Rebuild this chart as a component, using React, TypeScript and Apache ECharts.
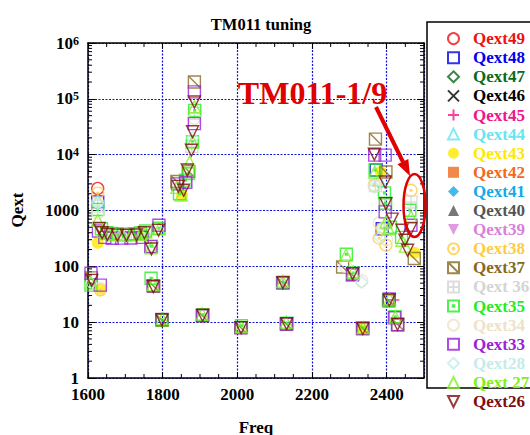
import React, { useEffect, useRef } from 'react';
import * as echarts from 'echarts';

const FONT = '"Liberation Serif", "Times New Roman", serif';

const seriesNames = [
  'Qext49', 'Qext48', 'Qext47', 'Qext46', 'Qext45', 'Qext44', 'Qext43', 'Qext42', 'Qext41', 'Qext40',
  'Qext39', 'Qext38', 'Qext37', 'Qext 36', 'Qext35', 'Qext34', 'Qext33', 'Qext28', 'Qext 27', 'Qext26',
];
const seriesColors = [
  '#ee1111', '#0000ee', '#0a6a1a', '#000000', '#f0148c', '#66e5f2', '#ffe800', '#f06a1e', '#12aae8', '#555555',
  '#d880dc', '#ffcc40', '#86691f', '#d4d4d4', '#22ee22', '#eee2c6', '#9a22d8', '#c4ecea', '#7ef020', '#7d0c0c',
];
const P_X = 'path://M0,0L10,10M10,0L0,10';
const P_PLUS = 'path://M5,0L5,10M0,5L10,5';
const P_DOWN = 'path://M0,0L10,0L5,10Z';
const P_CDOT = 'path://M5,0A5,5,0,1,1,5,10A5,5,0,1,1,5,0ZM5,4.2A0.8,0.8,0,1,1,5,5.8A0.8,0.8,0,1,1,5,4.2Z';
const P_SDIAG = 'path://M0,0L10,0L10,10L0,10ZM0,0L10,10';
const P_SGRID = 'path://M0,0L10,0L10,10L0,10ZM5,0L5,10M0,5L10,5';
const P_SDOT = 'path://M0,0L10,0L10,10L0,10ZM4.3,4.3L5.7,4.3L5.7,5.7L4.3,5.7Z';
const seriesSymbols = [
  'circle', 'rect', 'diamond', P_X, P_PLUS, 'triangle', 'circle', 'rect', 'diamond', 'triangle',
  P_DOWN, P_CDOT, P_SDIAG, P_SGRID, P_SDOT, 'circle', 'rect', 'diamond', 'triangle', P_DOWN,
];
const seriesFilled = [
  false, false, false, false, false, false, true, true, true, true,
  true, false, false, false, false, false, false, false, false, false,
];

type Pt = [number, number];
const q49: Pt[] = [[1626, 2480]];
const q48: Pt[] = [[1626, 1425], [2372, 5300], [2388, 470]];
const q47: Pt[] = [];
const q46: Pt[] = [];
const q45: Pt[] = [[2418, 25], [2122, 51]];
const q44: Pt[] = [[1626, 1500], [2380, 3500]];
const q43: Pt[] = [[1626, 263], [1633, 37], [1852, 1900], [2384, 4900], [2475, 175], [2335, 7.5]];
const q42: Pt[] = [];
const q41: Pt[] = [];
const q40: Pt[] = [];
const q39: Pt[] = [];
const q38: Pt[] = [[1626, 2050], [1633, 38], [2367, 2830], [2388, 470], [2398, 240], [2465, 2300], [2380, 320]];
const q37: Pt[] = [
  [1609, 62], [1776, 44], [1798, 10.8], [1906, 13.1], [2009, 8], [2121, 51], [2131, 9.3], [2282, 97],
  [2308, 70], [2335, 7.8], [2405, 24.5], [2430, 9], [1838, 3300], [1870, 5000], [1885, 200000],
  [2370, 19000], [2398, 4900], [2474, 138],
];
const q36: Pt[] = [[1626, 1200], [1700, 365], [1740, 380], [2122, 51], [1885, 55000], [1878, 14000], [2465, 1420], [2395, 1300], [2370, 2800]];
const q35: Pt[] = [
  [1608, 46], [1626, 1040], [1636, 470], [1650, 400], [1664, 390], [1678, 380], [1694, 375], [1708, 378],
  [1724, 385], [1740, 395], [1754, 430], [1770, 230], [1790, 480],
  [1769, 61], [1799, 11], [1908, 13.6], [2011, 8.6], [2123, 52], [2133, 9.6], [2292, 165], [2310, 76],
  [2337, 7.9], [2406, 24], [2423, 12.5],
  [1845, 2000], [1861, 3500], [1868, 4600], [1880, 17000], [1886, 62000],
  [2369, 5300], [2394, 2070], [2397, 1350], [2462, 1010], [2410, 500], [2440, 330],
];
const q34: Pt[] = [[1633, 40], [1626, 900], [1700, 380], [2333, 55], [2368, 2700], [2380, 600], [2400, 300], [2290, 100], [1885, 45000]];
const q33: Pt[] = [
  [1608, 75], [1633, 46], [1628, 430], [1645, 330], [1665, 318], [1690, 320], [1715, 322], [1745, 330],
  [1768, 225], [1790, 545],
  [1774, 45], [1798, 11.2], [1907, 13], [2010, 7.9], [2122, 50], [2132, 9.2], [2309, 72], [2336, 7.6],
  [2407, 26], [2421, 12], [2429, 9],
  [1840, 3000], [1885, 133000], [1885, 36000], [1862, 3200],
  [2368, 9800], [2396, 9800], [2396, 944], [2465, 545],
];
const q28: Pt[] = [[1626, 1350], [1690, 360], [1608, 50], [2333, 52], [2367, 2600], [2388, 480], [2382, 330], [1880, 20000]];
const q27: Pt[] = [
  [1608, 50], [1626, 670], [1640, 420], [1655, 385], [1668, 372], [1690, 365], [1715, 365], [1740, 375],
  [1754, 410], [1769, 215], [1790, 470],
  [1774, 47], [1799, 11.5], [1906, 14], [2011, 8.3], [2122, 54], [2131, 10], [2291, 158], [2310, 80],
  [2337, 8], [2408, 26], [2423, 12.3],
  [1838, 2600], [1850, 1900], [1872, 7400], [1880, 17000], [1885, 72000],
  [2368, 4900], [2398, 625], [2441, 294], [2465, 767], [2405, 470], [2450, 230],
];
const q26: Pt[] = [
  [1610, 56], [1630, 476], [1638, 400], [1652, 372], [1679, 362], [1703, 360], [1730, 365], [1751, 400],
  [1770, 205], [1789, 444],
  [1775, 43], [1798, 11], [1907, 13.3], [2010, 8], [2122, 51], [2132, 9.4], [2309, 74], [2336, 7.7],
  [2407, 25], [2429, 9.2],
  [1842, 2700], [1856, 2300], [1866, 5300], [1877, 12000], [1880, 25700], [1885, 88000],
  [2367, 10200], [2396, 3240], [2398, 1330], [2415, 700], [2441, 444], [2449, 294], [2456, 194], [2465, 476],
];
const seriesData = [q49, q48, q47, q46, q45, q44, q43, q42, q41, q40, q39, q38, q37, q36, q35, q34, q33, q28, q27, q26];

const xMinorTicks: number[] = [];
for (let f = 1650; f < 2500; f += 50) if (f % 200 !== 0) xMinorTicks.push(f);
const yMinorTicks: number[] = [];
for (let e = 0; e < 6; e++) for (let m = 2; m <= 9; m++) yMinorTicks.push(m * Math.pow(10, e));

const RED = '#e00000';

function buildOption(): any {
  const scatter = seriesNames.map((name, i) => ({
    name,
    type: 'scatter',
    data: seriesData[i],
    symbol: seriesSymbols[i],
    symbolSize: 12,
    itemStyle: seriesFilled[i]
      ? { color: seriesColors[i], borderWidth: 0 }
      : { color: 'none', borderColor: seriesColors[i], borderWidth: 1.4 },
    z: 3,
  }));
  const ticks = {
    type: 'custom',
    silent: true,
    clip: false,
    z: 1,
    data: [...yMinorTicks.map((v) => [1600, v, 0]), ...xMinorTicks.map((f) => [f, 1, 1])],
    renderItem: (params: any, api: any) => {
      const cs = params.coordSys;
      const kind = api.value(2);
      const p = api.coord([api.value(0), api.value(1)]);
      const st = { stroke: '#000', lineWidth: 1 };
      if (kind === 0) {
        return {
          type: 'group',
          children: [
            { type: 'line', shape: { x1: cs.x, y1: p[1], x2: cs.x + 4, y2: p[1] }, style: st },
            { type: 'line', shape: { x1: cs.x + cs.width - 4, y1: p[1], x2: cs.x + cs.width, y2: p[1] }, style: st },
          ],
        };
      }
      return {
        type: 'group',
        children: [
          { type: 'line', shape: { x1: p[0], y1: cs.y + cs.height, x2: p[0], y2: cs.y + cs.height - 4 }, style: st },
          { type: 'line', shape: { x1: p[0], y1: cs.y, x2: p[0], y2: cs.y + 4 }, style: st },
        ],
      };
    },
  };
  const gridLine = { show: true, lineStyle: { color: '#1010e0', type: [2, 1.5], width: 1.2 } };
  const axisLine = { show: true, onZero: false, lineStyle: { color: '#000', width: 1.5 } };
  const labelFont = { fontFamily: FONT, fontWeight: 'bold', fontSize: 17, color: '#000' };
  return {
    animation: false,
    backgroundColor: '#fff',
    title: {
      text: 'TM011 tuning',
      left: 256,
      top: 11,
      textAlign: 'center',
      textStyle: { fontFamily: FONT, fontWeight: 'bold', fontSize: 16.5, color: '#000' },
    },
    grid: { left: 88, top: 43, width: 336, height: 335 },
    xAxis: [
      {
        type: 'value', min: 1600, max: 2500, interval: 200, position: 'bottom',
        axisLine, axisTick: { show: true, inside: true, length: 6, lineStyle: { color: '#000' } },
        axisLabel: { ...labelFont, margin: 8, showMaxLabel: false, formatter: (v: number) => String(v) },
        splitLine: gridLine,
      },
      {
        type: 'value', min: 1600, max: 2500, interval: 200, position: 'top',
        axisLine, axisTick: { show: true, inside: true, length: 6, lineStyle: { color: '#000' } },
        axisLabel: { show: false }, splitLine: { show: false },
      },
    ],
    yAxis: [
      {
        type: 'log', logBase: 10, min: 1, max: 1000000, position: 'left',
        axisLine, axisTick: { show: true, inside: true, length: 7, lineStyle: { color: '#000' } },
        axisLabel: {
          ...labelFont,
          lineHeight: 12,
          margin: 9,
          formatter: (v: number) => {
            const e = Math.round(Math.log10(v));
            if (e <= 3) return String(Math.round(v));
            return `{b|10}{s|${e}}`;
          },
          rich: {
            b: { ...labelFont, lineHeight: 17 },
            s: { fontFamily: FONT, fontWeight: 'bold', fontSize: 12, color: '#000', verticalAlign: 'top', lineHeight: 12, padding: [0, 0, 9, 0] },
          },
        },
        splitLine: gridLine,
      },
      {
        type: 'log', logBase: 10, min: 1, max: 1000000, position: 'right',
        axisLine, axisTick: { show: true, inside: true, length: 7, lineStyle: { color: '#000' } },
        axisLabel: { show: false }, splitLine: { show: false },
      },
    ],
    legend: {
      orient: 'vertical',
      left: 440.5,
      top: 25.1,
      padding: 5,
      itemWidth: 11,
      itemHeight: 11,
      itemGap: 2.1,
      selectedMode: false,
      textStyle: { fontFamily: FONT, fontWeight: 'bold', fontSize: 17, lineHeight: 11, padding: [0, 0, 0, 9] },
      data: seriesNames.map((n, i) => ({ name: n, textStyle: { color: seriesColors[i] } })),
      z: 10,
    },
    graphic: [
      { type: 'rect', z: 1, shape: { x: 427, y: 22, width: 130, height: 366 }, style: { fill: '#fff', stroke: '#000', lineWidth: 1.5 } },
      { type: 'text', z: 20, x: 312.5, y: 93, style: { text: 'TM011-1/9', fill: RED, font: `bold 32px ${FONT}`, textAlign: 'center', textVerticalAlign: 'middle' } },
      { type: 'line', z: 20, shape: { x1: 376, y1: 107, x2: 403, y2: 162 }, style: { stroke: RED, lineWidth: 4 } },
      { type: 'polygon', z: 20, shape: { points: [[410, 176], [397.5, 164.3], [408.3, 159]] }, style: { fill: RED } },
      { type: 'ellipse', z: 20, shape: { cx: 414.5, cy: 205.5, rx: 11, ry: 31.5 }, style: { fill: 'none', stroke: RED, lineWidth: 2.5 } },
      { type: 'text', z: 20, x: 17, y: 210, rotation: Math.PI / 2, style: { text: 'Qext', fill: '#000', font: `bold 17px ${FONT}`, textAlign: 'center', textVerticalAlign: 'middle' } },
      { type: 'text', z: 20, x: 256, y: 427, style: { text: 'Freq', fill: '#000', font: `bold 17px ${FONT}`, textAlign: 'center', textVerticalAlign: 'middle' } },
    ],
    series: [ticks, ...scatter],
  };
}

export default function App() {
  const ref = useRef<HTMLDivElement>(null);
  useEffect(() => {
    const chart = echarts.init(ref.current!, null, { renderer: 'svg' });
    chart.setOption(buildOption());
    return () => chart.dispose();
  }, []);
  return (
    <div
      ref={ref}
      style={{ position: 'fixed', left: 0, top: 0, width: 530, height: 435, background: '#fff' }}
    />
  );
}
